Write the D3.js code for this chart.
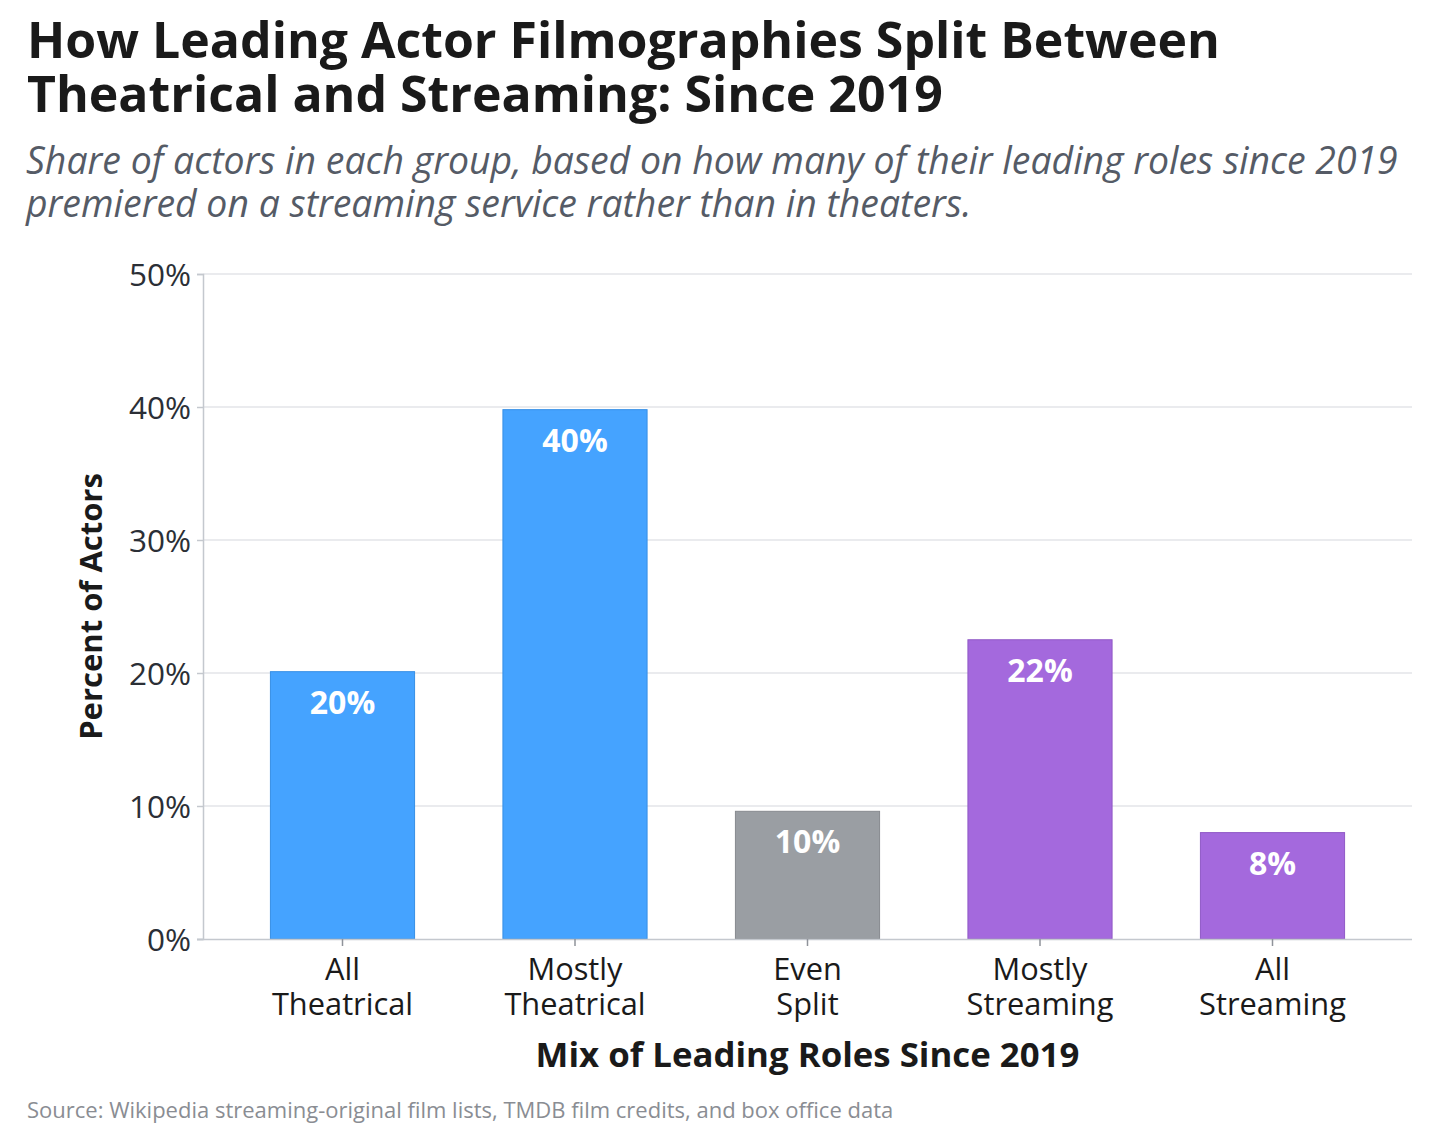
<!DOCTYPE html>
<html>
<head>
<meta charset="utf-8">
<script src="https://cdn.jsdelivr.net/npm/d3@7"></script>
<style>
  html, body { margin: 0; padding: 0; background: #fff; }
  svg { display: block; font-family: "Open Sans", "Noto Sans", sans-serif; }
</style>
</head>
<body>
<svg id="chart" width="1456" height="1137"></svg>
<script>
// data
var categories = [["All", "Theatrical"], ["Mostly", "Theatrical"], ["Even", "Split"], ["Mostly", "Streaming"], ["All", "Streaming"]];
var shares = [20.1, 39.8, 9.6, 22.5, 8.0];
var barLabels = ["20%", "40%", "10%", "22%", "8%"];
var groups = ["theatrical", "theatrical", "even", "streaming", "streaming"];
var yTicks = [0, 10, 20, 30, 40, 50];

var colors = {
  theatrical: "#3d9fff",
  even: "#969a9f",
  streaming: "#a063dc"
};

var svg = d3.select("#chart");
var margin = { left: 203, right: 44, top: 274, bottom: 198 };
var width = 1456, height = 1137;

var x = d3.scaleBand()
  .domain(d3.range(categories.length))
  .range([margin.left, width - margin.right])
  .paddingInner(0.38)
  .paddingOuter(0.29);

var y = d3.scaleLinear()
  .domain([0, 50])
  .range([height - margin.bottom, margin.top]);

// titles (one text per line)
var titleLines = ["How Leading Actor Filmographies Split Between", "Theatrical and Streaming: Since 2019"];
svg.append("g")
  .selectAll("text")
  .data(titleLines)
  .enter()
  .append("text")
    .attr("x", 27)
    .attr("y", function(d, i){ return 58 + i * 54; })
    .attr("fill", "#1a1a1a")
    .style("font-size", "50px")
    .style("font-weight", 700)
    .text(function(d){ return d; });

var subLines = ["Share of actors in each group, based on how many of their leading roles since 2019", "premiered on a streaming service rather than in theaters."];
svg.append("g")
  .selectAll("text")
  .data(subLines)
  .enter()
  .append("text")
    .attr("x", 26)
    .attr("y", function(d, i){ return 174 + i * 43; })
    .attr("fill", "#555b66")
    .style("font-size", "37.4px")
    .style("font-style", "italic")
    .text(function(d){ return d; });

// gridlines
svg.append("g")
  .selectAll("line")
  .data(yTicks.slice(1))
  .enter()
  .append("line")
    .attr("x1", margin.left)
    .attr("x2", width - margin.right)
    .attr("y1", function(d){ return y(d); })
    .attr("y2", function(d){ return y(d); })
    .attr("stroke", "#e3e5e9")
    .attr("stroke-width", 1.5);

// bars
svg.append("g")
  .selectAll("rect")
  .data(shares)
  .enter()
  .append("rect")
    .attr("x", function(d, i){ return x(i); })
    .attr("y", function(d){ return y(d); })
    .attr("width", x.bandwidth())
    .attr("height", function(d){ return y(0) - y(d); })
    .attr("fill", function(d, i){ return colors[groups[i]]; })
    .attr("fill-opacity", 0.96)
    .attr("stroke", function(d, i){ return d3.color(colors[groups[i]]).darker(0.3); })
    .attr("stroke-width", 1);

svg.append("g")
  .selectAll("text")
  .data(shares)
  .enter()
  .append("text")
    .attr("x", function(d, i){ return x(i) + x.bandwidth() / 2; })
    .attr("y", function(d){ return y(d) + 42; })
    .attr("text-anchor", "middle")
    .attr("fill", "#fff")
    .style("font-size", "32px")
    .style("font-weight", 700)
    .text(function(d, i){ return barLabels[i]; });

// y axis
var yAxis = svg.append("g")
  .attr("transform", "translate(" + margin.left + ",0)")
  .call(d3.axisLeft(y).tickValues(yTicks).tickSize(6).tickPadding(6).tickFormat(function(d){ return d + "%"; }));
yAxis.select(".domain").attr("stroke", "#c4c8ce").attr("stroke-width", 1.5);
yAxis.selectAll(".tick line").attr("stroke", "#c4c8ce").attr("stroke-width", 1.5);
yAxis.selectAll(".tick text")
  .attr("fill", "#2b2f36")
  .attr("dy", "0.35em")
  .style("font-size", "31.5px")
  .style("font-family", "'Open Sans', sans-serif");

// x axis
var xAxis = svg.append("g")
  .attr("transform", "translate(0," + y(0) + ")")
  .call(d3.axisBottom(x).tickSize(7).tickFormat(""));
xAxis.select(".domain").attr("d", "M" + (margin.left - 6) + ",0.5H" + (width - margin.right)).attr("stroke", "#c4c8ce").attr("stroke-width", 1.5);
xAxis.selectAll(".tick line").attr("stroke", "#8f939a").attr("stroke-width", 1.5);

var xLabels = svg.append("g")
  .selectAll("text")
  .data(categories)
  .enter()
  .append("text")
    .attr("text-anchor", "middle")
    .attr("fill", "#1a1a1a")
    .style("font-size", "30.8px");
xLabels.each(function(lines, i){
  var t = d3.select(this);
  lines.forEach(function(s, k){
    t.append("tspan")
      .attr("x", x(i) + x.bandwidth() / 2)
      .attr("y", y(0) + 41 + k * 35)
      .text(s);
  });
});

// axis titles
svg.append("text")
  .attr("x", (margin.left + width - margin.right) / 2)
  .attr("y", 1067)
  .attr("text-anchor", "middle")
  .attr("fill", "#1a1a1a")
  .style("font-size", "34.8px")
  .style("font-weight", 700)
  .text("Mix of Leading Roles Since 2019");

svg.append("text")
  .attr("transform", "translate(102," + y(25) + ") rotate(-90)")
  .attr("text-anchor", "middle")
  .attr("fill", "#1a1a1a")
  .style("font-size", "31px")
  .style("font-weight", 700)
  .text("Percent of Actors");

// source
svg.append("text")
  .attr("x", 27)
  .attr("y", 1118)
  .attr("fill", "#8a8d93")
  .style("font-size", "22px")
  .text("Source: Wikipedia streaming-original film lists, TMDB film credits, and box office data");
</script>
</body>
</html>
